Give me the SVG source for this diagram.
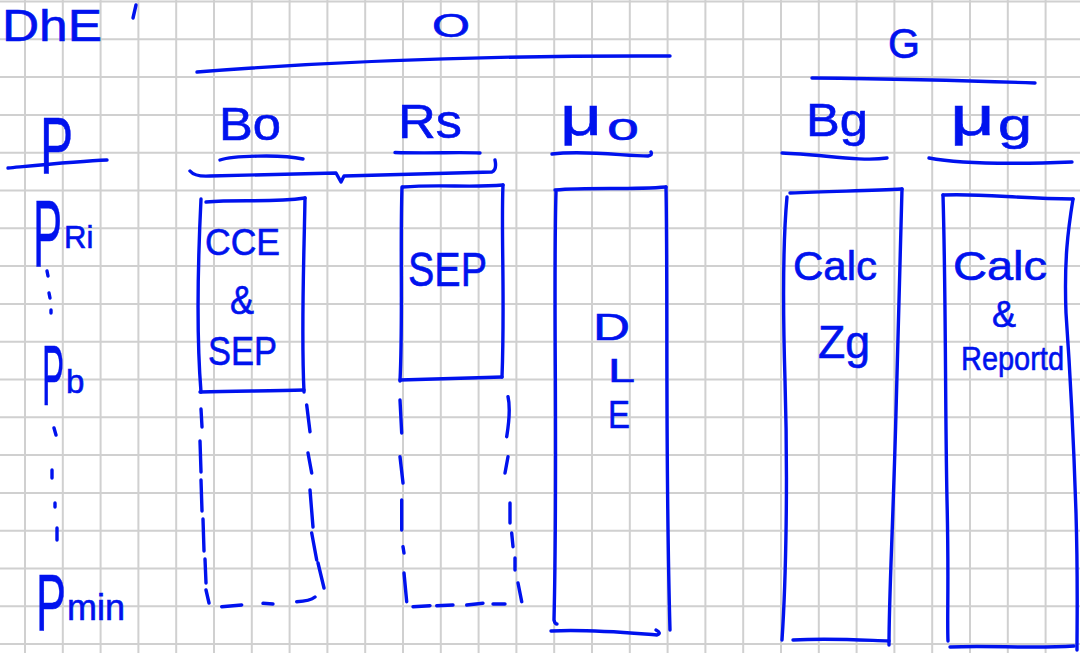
<svg xmlns="http://www.w3.org/2000/svg" width="1080" height="653" viewBox="0 0 1080 653">
  <style>
    .grid { fill: none; stroke: #d0d0d0; stroke-width: 2; }
    .ink { fill: none; stroke: #0012ee; stroke-width: 3.4; stroke-linecap: round; stroke-linejoin: round; }
    .txt { font-family: "Liberation Sans", Arial, sans-serif; fill: #0012ee; stroke: #0012ee; stroke-width: 0.6; }
  </style>

  <!-- squared paper -->
  <rect width="1080" height="653" fill="#ffffff"/>
  <path class="grid" d="M25,0V653 M62.8,0V653 M100.6,0V653 M138.4,0V653 M176.2,0V653 M214,0V653 M251.8,0V653 M289.6,0V653 M327.4,0V653 M365.2,0V653 M403,0V653 M440.8,0V653 M478.6,0V653 M516.4,0V653 M554.2,0V653 M592,0V653 M629.8,0V653 M667.6,0V653 M705.4,0V653 M743.2,0V653 M781,0V653 M818.8,0V653 M856.6,0V653 M894.4,0V653 M932.2,0V653 M970,0V653 M1007.8,0V653 M1045.6,0V653
    M0,1.5H1080 M0,39.3H1080 M0,77.1H1080 M0,114.9H1080 M0,152.7H1080 M0,190.5H1080 M0,228.3H1080 M0,266.1H1080 M0,303.9H1080 M0,341.7H1080 M0,379.5H1080 M0,417.3H1080 M0,455.1H1080 M0,492.9H1080 M0,530.7H1080 M0,568.5H1080 M0,606.3H1080 M0,644.1H1080"/>

  <!-- title -->
  <g id="title">
    <text class="txt" x="2" y="41" font-size="44" textLength="100" lengthAdjust="spacingAndGlyphs">DhE</text>
    <path class="ink" d="M136,5 L133,18"/>
  </g>

  <!-- phase headers -->
  <g id="phase-oil">
    <text class="txt" x="432" y="37" font-size="33" textLength="38" lengthAdjust="spacingAndGlyphs">O</text>
  </g>
  <g id="phase-gas">
    <text class="txt" x="888" y="58" font-size="42" textLength="32" lengthAdjust="spacingAndGlyphs">G</text>
  </g>

  <!-- rules, underlines and the brace -->
  <g id="connectors">
    <path class="ink" d="M197,72 C300,64 450,55 670,56"/>
    <path class="ink" d="M812,78 C900,79 980,81 1035,83"/>
    <path class="ink" d="M8,168 C40,165 80,161 107,160"/>
    <path class="ink" d="M220,160 C232,156 280,154 303,159"/>
    <path class="ink" d="M395,152.5 C430,153.5 460,152 480,153"/>
    <path class="ink" d="M190,171 Q195,177 210,176 L336,173 L341,182 L344,176 L492,172 Q497,170 495,160"/>
    <path class="ink" d="M552,154 C585,150 625,156 648,156 Q653,155 651,152"/>
    <path class="ink" d="M782,153 C820,154 860,162 887,158"/>
    <path class="ink" d="M929,158 C960,164 1020,164 1072,162"/>
  </g>

  <!-- pressure column: tall narrow P glyphs are squeezed horizontally -->
  <g id="col-p">
    <text class="txt" transform="translate(40,173) scale(0.62,1)" font-size="80">P</text>
    <text class="txt" transform="translate(33,266) scale(0.46,1)" font-size="95">P</text>
    <text class="txt" x="64" y="248" font-size="31">Ri</text>
    <path class="ink" d="M47,271 L48,276 M49,293 L50,298 M51,310 L51,313"/>
    <text class="txt" transform="translate(42,405) scale(0.39,1)" font-size="85">P</text>
    <text class="txt" x="66" y="393" font-size="33">b</text>
    <path class="ink" d="M54,428 L56,435 M52,470 L52,478 M55,503 L55,507 M57,528 L57,540"/>
    <text class="txt" transform="translate(36,630) scale(0.56,1)" font-size="80">P</text>
    <text class="txt" x="67" y="620" font-size="36">min</text>
  </g>

  <!-- Bo column -->
  <g id="col-bo">
    <text class="txt" x="219" y="140" font-size="46" textLength="62" lengthAdjust="spacingAndGlyphs">Bo</text>
    <path class="ink" d="M201,199 C198,260 196,330 201,392"/>
    <path class="ink" d="M206,202 C240,199 270,203 305,198"/>
    <path class="ink" d="M305,198 C304,260 301,330 304,392"/>
    <path class="ink" d="M200,392 C240,391 270,391 304,390"/>
    <text class="txt" x="205" y="255" font-size="37" textLength="75" lengthAdjust="spacingAndGlyphs">CCE</text>
    <text class="txt" x="230" y="314" font-size="40" textLength="24" lengthAdjust="spacingAndGlyphs">&amp;</text>
    <text class="txt" x="208" y="365" font-size="41" textLength="69" lengthAdjust="spacingAndGlyphs">SEP</text>
    <path class="ink" d="M201,409 L202,427 M200,441 L201,472 M201,480 L202,511 M203,519 L204,551 M205,559 L206,583 M206,590 L209,603"/>
    <path class="ink" d="M306.7,405 L310,431.7 M308,453 L311.7,473 M310,490 L313,527 M311.7,533 L316.7,560 M318,563 L324,588"/>
    <path class="ink" d="M221.7,606.7 L241.7,605 M263,603.3 L273,604 M296.7,601.7 Q310,601 315,597"/>
  </g>

  <!-- Rs column -->
  <g id="col-rs">
    <text class="txt" x="398" y="138" font-size="48" textLength="64" lengthAdjust="spacingAndGlyphs">Rs</text>
    <path class="ink" d="M402,187 C400,250 403,320 400,381"/>
    <path class="ink" d="M403,187 C440,184 470,188 503,185"/>
    <path class="ink" d="M503,185 C501,230 505,300 502,377"/>
    <path class="ink" d="M400,380 C440,379 470,378 502,377"/>
    <text class="txt" x="408" y="286" font-size="48" textLength="79" lengthAdjust="spacingAndGlyphs">SEP</text>
    <path class="ink" d="M400,400 L401.7,433 M400,456.7 L403,483 M401.7,500 L401.7,530 M403,546.7 L404,553 M404,573 L406.7,601.7"/>
    <path class="ink" d="M508,396.7 Q511,410 506.7,436.7 M508,456.7 L505,473 M510,503 L510,523 M511.7,533 L513,546.7 M515,558 L515,570 M518,583 L521.7,601.7"/>
    <path class="ink" d="M413,606.7 L430,605.7 M436.7,605.7 L453,605 M466.7,605 L483,603.3 M493,604 L505,604"/>
  </g>

  <!-- mu o column -->
  <g id="col-muo">
    <text class="txt" x="560" y="135" font-size="56" textLength="42" lengthAdjust="spacingAndGlyphs">μ</text>
    <text class="txt" x="607" y="140" font-size="38" textLength="32" lengthAdjust="spacingAndGlyphs">o</text>
    <path class="ink" d="M555,190 C590,187 630,190 666,187"/>
    <path class="ink" d="M556,192 C553,300 558,450 554,620 Q555,624 557,624"/>
    <path class="ink" d="M666,187 C668,300 665,450 670,630"/>
    <path class="ink" d="M551,631 C590,629 630,633 657,635 Q662,633 656,630"/>
    <text class="txt" x="593" y="340" font-size="37" textLength="37" lengthAdjust="spacingAndGlyphs">D</text>
    <text class="txt" x="608" y="382" font-size="34" textLength="27" lengthAdjust="spacingAndGlyphs">L</text>
    <text class="txt" x="608" y="428" font-size="38" textLength="22" lengthAdjust="spacingAndGlyphs">E</text>
  </g>

  <!-- Bg column -->
  <g id="col-bg">
    <text class="txt" x="806" y="136" font-size="46" textLength="62" lengthAdjust="spacingAndGlyphs">Bg</text>
    <path class="ink" d="M790,193 C830,191 870,191 902,189"/>
    <path class="ink" d="M787,197 C784,230 782,280 785,380 C788,480 786,580 782,640"/>
    <path class="ink" d="M902,189 C900,250 898,350 895,447 C892,547 889,600 889,645"/>
    <path class="ink" d="M793,640 C830,638 860,640 889,641"/>
    <text class="txt" x="793" y="280" font-size="40" textLength="84" lengthAdjust="spacingAndGlyphs">Calc</text>
    <text class="txt" x="818" y="358" font-size="46" textLength="52" lengthAdjust="spacingAndGlyphs">Zg</text>
  </g>

  <!-- mu g column -->
  <g id="col-mug">
    <text class="txt" x="950" y="135" font-size="56" textLength="45" lengthAdjust="spacingAndGlyphs">μ</text>
    <text class="txt" x="998" y="140" font-size="44" textLength="34" lengthAdjust="spacingAndGlyphs">g</text>
    <path class="ink" d="M943,195 C980,193 1020,199 1073,199"/>
    <path class="ink" d="M943,195 C946,300 945,400 947,500 C949,580 947,620 948,641"/>
    <path class="ink" d="M1073,199 C1068,230 1064,260 1066,313 C1070,370 1073,420 1076,513 C1078,580 1077,620 1077,650"/>
    <path class="ink" d="M950,647 C990,645 1030,649 1074,646"/>
    <text class="txt" x="953" y="280" font-size="40" textLength="94" lengthAdjust="spacingAndGlyphs">Calc</text>
    <text class="txt" x="992" y="327" font-size="36" textLength="24" lengthAdjust="spacingAndGlyphs">&amp;</text>
    <text class="txt" x="961" y="370" font-size="34" textLength="103" lengthAdjust="spacingAndGlyphs">Reportd</text>
  </g>
</svg>
